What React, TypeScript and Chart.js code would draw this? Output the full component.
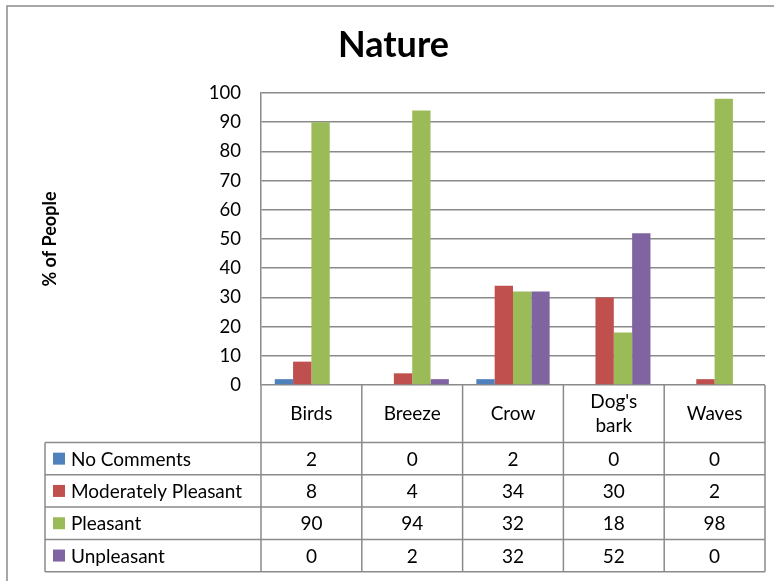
import { useEffect, useRef } from "react";
import { Chart, registerables } from "chart.js";

Chart.register(...registerables);

// Categories (multi-line labels are split into lines for the data table header)
const categories: string[][] = [["Birds"], ["Breeze"], ["Crow"], ["Dog's", "bark"], ["Waves"]];

const seriesNames = ["No Comments", "Moderately Pleasant", "Pleasant", "Unpleasant"];
const noComments = [2, 0, 2, 0, 0];
const moderatelyPleasant = [8, 4, 34, 30, 2];
const pleasant = [90, 94, 32, 18, 98];
const unpleasant = [0, 2, 32, 52, 0];
const seriesColors = ["#4F81BD", "#C0504D", "#9BBB59", "#8064A2"];

const yMin = 0;
const yMax = 100;
const yStep = 10;

const FONT = "Lato, 'DejaVu Sans', sans-serif";
const LINE = "#8a8a8a";

// Draws the outer frame and the data table under the plot, aligned to the x scale.
const dataTablePlugin = {
  id: "dataTable",
  beforeDraw(chart: any) {
    const { ctx } = chart;
    ctx.save();
    ctx.strokeStyle = LINE;
    ctx.lineWidth = 1.5;
    ctx.strokeRect(7, 6, 800, 600);
    ctx.restore();
  },
  afterDraw(chart: any) {
    const { ctx, chartArea } = chart;
    const x = chart.scales.x;
    const n = chart.data.labels.length;
    const step = x.getPixelForValue(1) - x.getPixelForValue(0);
    const first = x.getPixelForValue(0) - step / 2;
    const edges: number[] = [];
    for (let i = 0; i <= n; i++) edges.push(first + i * step);

    const top = chartArea.bottom;
    const headerH = 57.5;
    const rowH = 32.3;
    const tableLeft = 45;
    const rows = chart.data.datasets.length;
    const bodyTop = top + headerH;
    const bottom = bodyTop + rows * rowH;

    ctx.save();
    ctx.strokeStyle = LINE;
    ctx.lineWidth = 1.5;
    ctx.beginPath();
    // vertical lines of the category columns
    for (const e of edges) {
      ctx.moveTo(e, top);
      ctx.lineTo(e, bottom);
    }
    // left edge of the legend column
    ctx.moveTo(tableLeft, bodyTop);
    ctx.lineTo(tableLeft, bottom);
    // horizontal lines of the body rows
    for (let r = 0; r <= rows; r++) {
      const y = bodyTop + r * rowH;
      ctx.moveTo(tableLeft, y);
      ctx.lineTo(edges[n], y);
    }
    ctx.stroke();

    ctx.fillStyle = "#000";
    ctx.font = `19px ${FONT}`;
    ctx.textAlign = "center";
    ctx.textBaseline = "middle";

    // header: category names
    const headerMid = top + headerH / 2;
    categories.forEach((lines, i) => {
      const cx = (edges[i] + edges[i + 1]) / 2;
      const lh = 24;
      lines.forEach((t, k) => {
        ctx.fillText(t, cx, headerMid + (k - (lines.length - 1) / 2) * lh);
      });
    });

    // body: legend key, series name and values
    chart.data.datasets.forEach((ds: any, r: number) => {
      const cy = bodyTop + r * rowH + rowH / 2;
      ctx.fillStyle = ds.backgroundColor;
      ctx.fillRect(53, cy - 6, 12, 12);
      ctx.fillStyle = "#000";
      ctx.textAlign = "left";
      ctx.fillText(ds.label, 71, cy + 1);
      ctx.textAlign = "center";
      ds.data.forEach((v: number, i: number) => {
        ctx.fillText(String(v), (edges[i] + edges[i + 1]) / 2, cy + 1);
      });
    });
    ctx.restore();
  },
};

export default function App() {
  const ref = useRef<HTMLCanvasElement | null>(null);

  useEffect(() => {
    if (!ref.current) return;
    const values = [noComments, moderatelyPleasant, pleasant, unpleasant];
    const chart = new Chart(ref.current, {
      type: "bar",
      data: {
        labels: categories.map((c) => c.join(" ")),
        datasets: seriesNames.map((name, i) => ({
          label: name,
          data: values[i],
          backgroundColor: seriesColors[i],
          borderWidth: 0,
          barPercentage: 1,
          categoryPercentage: 4 / 5.5,
        })),
      },
      options: {
        responsive: false,
        animation: false,
        layout: { padding: { left: 22, right: 9, top: 0, bottom: 196 } },
        plugins: {
          legend: { display: false },
          tooltip: { enabled: false },
          title: {
            display: true,
            text: "Nature",
            color: "#000",
            font: { family: FONT, size: 36, weight: "bold", lineHeight: 1.2 },
            padding: { top: 24, bottom: 25.8 },
          },
        },
        scales: {
          x: { display: false },
          y: {
            min: yMin,
            max: yMax,
            ticks: {
              stepSize: yStep,
              color: "#000",
              padding: 20,
              font: { family: FONT, size: 18.5 },
            },
            grid: { color: LINE, lineWidth: 1.5, drawTicks: false },
            border: { display: true, color: LINE, width: 1.5 },
            title: {
              display: true,
              text: "% of People",
              color: "#000",
              font: { family: FONT, size: 18, weight: "bold", lineHeight: 1.2 },
              padding: { top: 17, bottom: 0 },
            },
            afterFit(scale: any) {
              scale.width = 239;
            },
          },
        },
      },
      plugins: [dataTablePlugin],
    });
    return () => chart.destroy();
  }, []);

  return (
    <div style={{ position: "absolute", left: 0, top: 0, width: 774, height: 581, background: "#fff" }}>
      <canvas ref={ref} width={774} height={581} style={{ display: "block" }} />
    </div>
  );
}
